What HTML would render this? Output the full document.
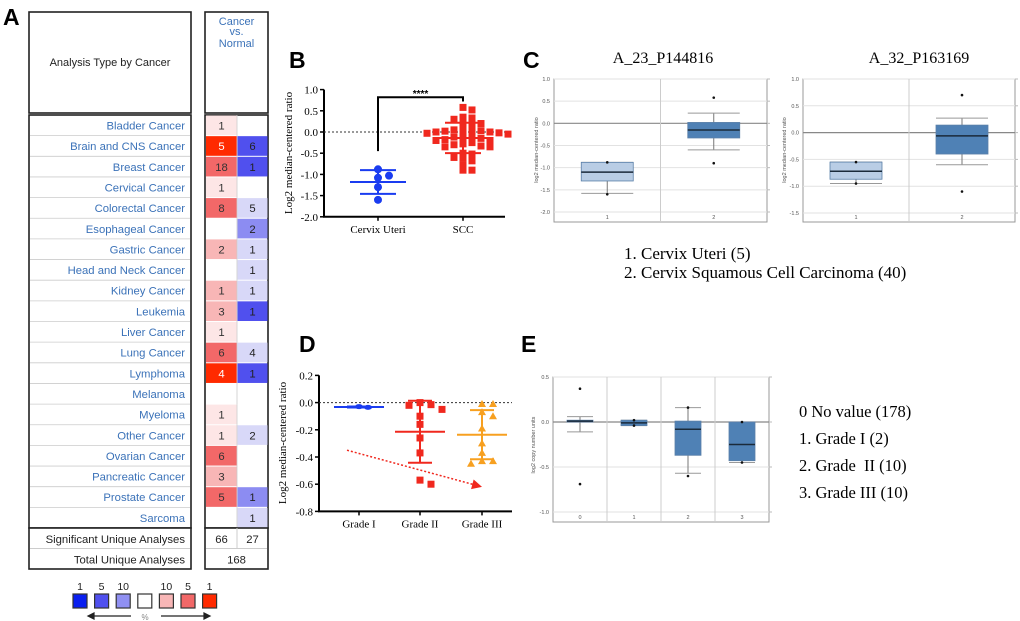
<!DOCTYPE html>
<html><head><meta charset="utf-8">
<style>
html,body{margin:0;padding:0;background:#fff;}
svg{display:block;}
.sans{font-family:"Liberation Sans","DejaVu Sans",sans-serif;}
.serif{font-family:"Liberation Serif",serif;}
.pre{white-space:pre;}
</style></head>
<body>
<svg id="fig" width="1020" height="621" viewBox="0 0 1020 621" xmlns="http://www.w3.org/2000/svg">
<text x="3" y="25" font-size="23" font-weight="bold" class="sans">A</text>
<text x="289" y="68" font-size="23" font-weight="bold" class="sans">B</text>
<text x="523" y="68" font-size="23" font-weight="bold" class="sans">C</text>
<text x="299" y="352" font-size="23" font-weight="bold" class="sans">D</text>
<text x="521" y="352" font-size="23" font-weight="bold" class="sans">E</text>
</svg>
<script>
// ---------- Panel A data ----------
const cancerTypes=["Bladder Cancer","Brain and CNS Cancer","Breast Cancer","Cervical Cancer","Colorectal Cancer","Esophageal Cancer","Gastric Cancer","Head and Neck Cancer","Kidney Cancer","Leukemia","Liver Cancer","Lung Cancer","Lymphoma","Melanoma","Myeloma","Other Cancer","Ovarian Cancer","Pancreatic Cancer","Prostate Cancer","Sarcoma"];
const upCounts=[1,5,18,1,8,null,2,null,1,3,1,6,4,null,1,1,6,3,5,null];
const upLevels=[3,0,1,3,1,null,2,null,2,2,3,1,0,null,3,3,1,2,1,null];
const downCounts=[null,6,1,null,5,2,1,1,1,1,null,4,1,null,null,2,null,null,1,1];
const downLevels=[null,1,1,null,3,2,3,3,3,1,null,3,1,null,null,3,null,null,2,3];
const sigTotals=[66,27];
const totalAnalyses=168;
const legendLabels=["1","5","10","","10","5","1"];
// ---------- Panel B data ----------
const bCategories=["Cervix Uteri","SCC"];
const bNormal=[-0.88,-1.08,-1.03,-1.30,-1.60];
const bSCC=[0.58,0.52,0.35,0.33,0.30,0.22,0.20,0.20,0.10,0.05,0.05,0.03,0.02,0.0,0.0,-0.02,-0.03,-0.05,-0.10,-0.12,-0.15,-0.15,-0.18,-0.20,-0.20,-0.25,-0.28,-0.30,-0.33,-0.35,-0.35,-0.50,-0.52,-0.60,-0.62,-0.68,-0.78,-0.90,-0.90,-0.02];
const bTicks=[1.0,0.5,0.0,-0.5,-1.0,-1.5,-2.0];
// ---------- Panel C data (q1,median,q3,whiskerLow,whiskerHigh,outliers) ----------
const c1Titles="A_23_P144816";
const c1Boxes=[[-1.30,-1.10,-0.88,-1.58,-0.88,[-0.88,-1.60]],[-0.33,-0.15,0.02,-0.60,0.23,[0.58,-0.90]]];
const c1Ticks=[1.0,0.5,0.0,-0.5,-1.0,-1.5,-2.0];
const c2Title="A_32_P163169";
const c2Boxes=[[-0.87,-0.72,-0.55,-0.95,-0.55,[-0.55,-0.95]],[-0.40,-0.06,0.14,-0.60,0.27,[0.70,-1.10]]];
const c2Ticks=[1.0,0.5,0.0,-0.5,-1.0,-1.5];
// ---------- Panel D data ----------
const dCategories=["Grade I","Grade II","Grade III"];
const dGrade1=[-0.03,-0.035];
const dGrade2=[-0.015,0.0,-0.02,-0.05,-0.10,-0.16,-0.26,-0.37,-0.60,-0.57];
const dGrade3=[-0.01,-0.01,-0.07,-0.10,-0.19,-0.30,-0.37,-0.43,-0.45,-0.43];
const dTicks=[0.2,0.0,-0.2,-0.4,-0.6,-0.8];
const dTrendStart=-0.35, dTrendEnd=-0.62;
// ---------- Panel E data ----------
const eCategories=["0","1","2","3"];
const eBoxes=[[0.0,0.01,0.02,-0.11,0.06,[0.37,-0.69]],[-0.04,-0.01,0.02,-0.04,0.02,[0.02,-0.04]],[-0.37,-0.08,0.01,-0.57,0.16,[0.16,-0.60]],[-0.43,-0.25,0.0,-0.45,0.0,[0.0,-0.45]]];
const eTicks=[0.5,0.0,-0.5,-1.0];

const NS='http://www.w3.org/2000/svg';
const svg=document.getElementById('fig');
function mk(tag,attrs,parent){const e=document.createElementNS(NS,tag);for(const k in attrs)e.setAttribute(k,attrs[k]);(parent||svg).appendChild(e);return e;}
function tx(x,y,s,attrs){const e=mk('text',Object.assign({x:x,y:y},attrs||{}));e.textContent=s;return e;}
function stats(a){const m=a.reduce((s,v)=>s+v,0)/a.length;const sd=Math.sqrt(a.reduce((s,v)=>s+(v-m)*(v-m),0)/(a.length-1));return [m,sd];}
// collision-avoiding beeswarm with vertical threshold and max spread
function swarm(vals,yFn,cx,d,dyThr,maxK){
  const order=vals.map((v,i)=>i).sort((a,b)=>vals[b]-vals[a]);
  const placed=[];const pos=new Array(vals.length);
  order.forEach(function(idx){
    const y=yFn(vals[idx]);
    let chosen=null;
    for(let k=0;k<=maxK;k++){
      const off=(k===0?0:(k%2?1:-1)*Math.ceil(k/2))*d;
      const x=cx+off;
      const hit=placed.some(p=>Math.abs(p[0]-x)<d-0.5&&Math.abs(p[1]-y)<dyThr);
      if(!hit){chosen=x;break;}
    }
    if(chosen===null)chosen=cx;
    pos[idx]=chosen;placed.push([chosen,y]);
  });
  return pos;
}

// ================= PANEL A =================
(function(){
const rowH=20.65, top=115;
const redC=["#ff2a00","#f26868","#f8b6b6","#fde6e6"];
const blueC=["#2020ee","#5050ee","#8c8cf2","#d8d8f8"];
let e;
e=mk('rect',{x:29,y:12,width:162,height:101,fill:'#fff',stroke:'#222','stroke-width':1.6});


e=tx(110,66,'Analysis Type by Cancer',{'font-size':11,'text-anchor':'middle',fill:'#222',class:'sans'});


e=mk('rect',{x:205,y:12,width:63,height:101,fill:'#fff',stroke:'#222','stroke-width':1.6});


[['Cancer',25],['vs.',35],['Normal',47]].forEach(function(p){
  e=tx(236.5,p[1],p[0],{'font-size':11,'text-anchor':'middle',fill:'#3b72b8',class:'sans'});
  
  
});
const n=cancerTypes.length, bottom=top+n*rowH;
e=mk('rect',{x:29,y:top,width:162,height:bottom-top,fill:'#fff',stroke:'#222','stroke-width':1.6});


e=mk('rect',{x:205,y:top,width:63,height:bottom-top,fill:'#fff',stroke:'#222','stroke-width':1.6});


for(let i=0;i<n;i++){
  const y=top+i*rowH;
  if(i>0){
    e=mk('line',{x1:30,x2:190,y1:y,y2:y,stroke:'#ccc','stroke-width':0.8});
    
    
  }
  e=tx(185,y+14.5,cancerTypes[i],{'font-size':11.3,'text-anchor':'end',fill:'#3b72b8',class:'sans'});
  
  
  if(upCounts[i]!=null){
    e=mk('rect',{x:206,y:y+0.5,width:31,height:rowH-1,fill:redC[upLevels[i]]});
    
    
    e=tx(221.5,y+14.5,String(upCounts[i]),{'font-size':11.3,'text-anchor':'middle',fill:upLevels[i]===0?'#fff':'#333',class:'sans'});
    
    
  }
  if(downCounts[i]!=null){
    e=mk('rect',{x:237.5,y:y+0.5,width:30,height:rowH-1,fill:blueC[downLevels[i]]});
    
    
    e=tx(252.5,y+14.5,String(downCounts[i]),{'font-size':11.3,'text-anchor':'middle',fill:'#222',class:'sans'});
    
    
  }
  e=mk('line',{x1:237,x2:237,y1:y,y2:y+rowH,stroke:'#ccc','stroke-width':0.8});
  
  
}
e=mk('rect',{x:29,y:bottom,width:162,height:41,fill:'#fff',stroke:'#222','stroke-width':1.6});


e=mk('rect',{x:205,y:bottom,width:63,height:41,fill:'#fff',stroke:'#222','stroke-width':1.6});


e=mk('line',{x1:30,x2:190,y1:bottom+20.5,y2:bottom+20.5,stroke:'#ccc'});


e=mk('line',{x1:206,x2:267,y1:bottom+20.5,y2:bottom+20.5,stroke:'#ccc'});


e=mk('line',{x1:237,x2:237,y1:bottom,y2:bottom+20.5,stroke:'#ccc'});


e=tx(185,bottom+15,'Significant Unique Analyses',{'font-size':11.3,'text-anchor':'end',fill:'#222',class:'sans'});


e=tx(185,bottom+35.5,'Total Unique Analyses',{'font-size':11.3,'text-anchor':'end',fill:'#222',class:'sans'});


e=tx(221.5,bottom+15,String(sigTotals[0]),{'font-size':11.3,'text-anchor':'middle',fill:'#222',class:'sans'});


e=tx(252.5,bottom+15,String(sigTotals[1]),{'font-size':11.3,'text-anchor':'middle',fill:'#222',class:'sans'});


e=tx(236.5,bottom+35.5,String(totalAnalyses),{'font-size':11.3,'text-anchor':'middle',fill:'#222',class:'sans'});


const legFill=["#0a1ff0","#5050ee","#9090f2","#fff","#f8b6b6","#f26868","#ff2a00"];
for(let k=0;k<7;k++){
  const x=73+k*21.6;
  e=mk('rect',{x:x,y:594,width:14,height:14,fill:legFill[k],stroke:'#333','stroke-width':1.2});
  
  
  e=tx(x+7,590,legendLabels[k],{'font-size':10.5,'text-anchor':'middle',fill:'#222',class:'sans'});
  
  
}
e=mk('path',{d:'M131 616 L88 616 M88 616 l6 -3 v6 z',stroke:'#222',fill:'#222','stroke-width':1.2});


e=mk('path',{d:'M161 616 L210 616 M210 616 l-6 -3 v6 z',stroke:'#222',fill:'#222','stroke-width':1.2});


e=tx(145,620,'%',{'font-size':8,'text-anchor':'middle',fill:'#888',class:'sans'});


})();

// ================= PANEL B =================
(function(){
const yB=v=>132-v*42.4;
const xCat=[378,463];
const ax0=324, ax1=505;
let e;
e=mk('line',{x1:ax0,x2:ax0,y1:yB(1.0),y2:yB(-2.0),stroke:'#000','stroke-width':2});


e=mk('line',{x1:ax0-1,x2:ax1,y1:yB(-2.0),y2:yB(-2.0),stroke:'#000','stroke-width':2});


bTicks.forEach(function(t){
  e=mk('line',{x1:ax0-4,x2:ax0,y1:yB(t),y2:yB(t),stroke:'#000','stroke-width':1.5});
  
  
  e=tx(ax0-6,yB(t)+4,t.toFixed(1),{'font-size':11,'text-anchor':'end',class:'serif'});
  
  
});
e=tx(0,0,'Log2 median-centered ratio',{'font-size':11,'text-anchor':'middle',class:'serif',transform:'translate(292,153) rotate(-90)'});


bCategories.forEach(function(c,i){
  e=mk('line',{x1:xCat[i],x2:xCat[i],y1:yB(-2.0),y2:yB(-2.0)+4,stroke:'#000','stroke-width':1.5});
  
  
  e=tx(xCat[i],yB(-2.0)+16,c,{'font-size':11,'text-anchor':'middle',class:'serif'});
  
  
});
e=mk('line',{x1:ax0,x2:ax1,y1:yB(0),y2:yB(0),stroke:'#333','stroke-width':1,'stroke-dasharray':'2,2'});


e=mk('path',{d:'M'+xCat[0]+' '+yB(-0.45)+' V'+yB(0.82)+' H'+xCat[1]+' V'+yB(0.72),fill:'none',stroke:'#000','stroke-width':2});


e=tx((xCat[0]+xCat[1])/2,yB(0.9)+3,'****',{'font-size':10,'text-anchor':'middle','font-weight':'bold',class:'sans'});


const series=[[bNormal,'#1a3cf0','circle',11,8,4],[bSCC,'#f0281e','square',9,5,9]];
series.forEach(function(s,i){
  const st=stats(s[0]);const cx=xCat[i];
  const px=swarm(s[0],yB,cx,s[3],s[4],s[5]);
  s[0].forEach(function(v,j){
    if(s[2]==='circle'){e=mk('circle',{cx:px[j],cy:yB(v),r:4,fill:s[1]});}
    else{e=mk('rect',{x:px[j]-3.5,y:yB(v)-3.5,width:7,height:7,fill:s[1]});}
    
    
  });
  e=mk('line',{x1:cx-28,x2:cx+28,y1:yB(st[0]),y2:yB(st[0]),stroke:s[1],'stroke-width':2});
  
  
  e=mk('line',{x1:cx,x2:cx,y1:yB(st[0]+st[1]),y2:yB(st[0]-st[1]),stroke:s[1],'stroke-width':2});
  
  
  [st[0]+st[1],st[0]-st[1]].forEach(function(v){
    e=mk('line',{x1:cx-18,x2:cx+18,y1:yB(v),y2:yB(v),stroke:s[1],'stroke-width':2});
    
    
  });
});
})();

// ================= Box plot helper (C, E) =================
function boxPanel(fx0,fx1,fy0,fy1,vTop,vBot,yTop,yBot,ticks,boxes,cats,colors,halfW,prefix){
  const y=v=>yTop+(vTop-v)*(yBot-yTop)/(vTop-vBot);
  let e;
  e=mk('rect',{x:fx0,y:fy0,width:fx1-fx0,height:fy1-fy0,fill:'#fff',stroke:'#999','stroke-width':1});
  
  
  const n=cats.length;const w=(fx1-fx0)/n;
  ticks.forEach(function(t){
    e=mk('line',{x1:fx0,x2:fx1,y1:y(t),y2:y(t),stroke:t===0?'#888':'#e2e2e2','stroke-width':t===0?1.2:1});
    
    
    e=tx(fx0-4,y(t)+2,t.toFixed(1),{'font-size':5.5,'text-anchor':'end',fill:'#555',class:'sans'});
    
    
    e=mk('line',{x1:fx1,x2:fx1+3,y1:y(t),y2:y(t),stroke:'#bbb'});
    
    
  });
  for(let i=1;i<n;i++){
    e=mk('line',{x1:fx0+i*w,x2:fx0+i*w,y1:fy0,y2:fy1,stroke:'#ccc'});
    
    
  }
  boxes.forEach(function(b,i){
    const cx=fx0+(i+0.5)*w;
    e=tx(cx,fy1-3,cats[i],{'font-size':5.5,'text-anchor':'middle',fill:'#555',class:'sans'});
    
    
    e=mk('line',{x1:cx,x2:cx,y1:y(b[4]),y2:y(b[3]),stroke:'#777'});
    
    
    [b[3],b[4]].forEach(function(v){
      e=mk('line',{x1:cx-halfW,x2:cx+halfW,y1:y(v),y2:y(v),stroke:'#999','stroke-width':1});
      
      
    });
    e=mk('rect',{x:cx-halfW,y:y(b[2]),width:2*halfW,height:Math.max(1.5,y(b[0])-y(b[2])),fill:colors[i],stroke:'#5a7fa8','stroke-width':0.8});
    
    
    e=mk('line',{x1:cx-halfW,x2:cx+halfW,y1:y(b[1]),y2:y(b[1]),stroke:'#1a2a3a','stroke-width':1.5});
    
    
    b[5].forEach(function(v){
      e=mk('circle',{cx:cx,cy:y(v),r:1.3,fill:'#111'});
      
      
    });
  });
}
(function(){
let e;
e=tx(663,63,c1Titles,{'font-size':16,'text-anchor':'middle',class:'serif'});


boxPanel(554,767,79,222,1.0,-2.0,79,212,c1Ticks,c1Boxes,['1','2'],['#b9cde5','#4f81b5'],26,'c1');
e=tx(0,0,'log2 median-centered ratio',{'font-size':5.5,'text-anchor':'middle',fill:'#555',class:'sans',transform:'translate(538,150) rotate(-90)'});


e=tx(919,63,c2Title,{'font-size':16,'text-anchor':'middle',class:'serif'});


boxPanel(803,1015,79,222,1.0,-1.5,79,213,c2Ticks,c2Boxes,['1','2'],['#b9cde5','#4f81b5'],26,'c2');
e=tx(0,0,'log2 median-centered ratio',{'font-size':5.5,'text-anchor':'middle',fill:'#555',class:'sans',transform:'translate(786,150) rotate(-90)'});


e=tx(624,259,'1. Cervix Uteri (5)',{'font-size':17,class:'serif'});


e=tx(624,278,'2. Cervix Squamous Cell Carcinoma (40)',{'font-size':17,class:'serif'});


boxPanel(553,769,377,522,0.5,-1.0,377,512,eTicks,eBoxes,eCategories,['#4f81b5','#4f81b5','#4f81b5','#4f81b5'],13,'e');
e=tx(0,0,'log2 copy number units',{'font-size':5.5,'text-anchor':'middle',fill:'#555',class:'sans',transform:'translate(535,445) rotate(-90)'});


[['0 No value (178)',417],['1. Grade I (2)',444],['2. Grade  II (10)',471],['3. Grade III (10)',498]].forEach(function(p){
  e=tx(799,p[1],p[0],{'font-size':16.5,class:'serif pre'});
  
  
});
})();

// ================= PANEL D =================
(function(){
const yD=v=>402.6-v*136;
const xCat=[359,420,482];
const ax0=319, ax1=512;
let e;
e=mk('line',{x1:ax0,x2:ax0,y1:yD(0.2),y2:yD(-0.8),stroke:'#000','stroke-width':2});


e=mk('line',{x1:ax0-1,x2:ax1,y1:yD(-0.8),y2:yD(-0.8),stroke:'#000','stroke-width':2});


dTicks.forEach(function(t){
  e=mk('line',{x1:ax0-4,x2:ax0,y1:yD(t),y2:yD(t),stroke:'#000','stroke-width':1.5});
  
  
  e=tx(ax0-6,yD(t)+4,t.toFixed(1),{'font-size':11,'text-anchor':'end',class:'serif'});
  
  
});
e=tx(0,0,'Log2 median-centered ratio',{'font-size':11,'text-anchor':'middle',class:'serif',transform:'translate(286,443) rotate(-90)'});


dCategories.forEach(function(c,i){
  e=mk('line',{x1:xCat[i],x2:xCat[i],y1:yD(-0.8),y2:yD(-0.8)+4,stroke:'#000','stroke-width':1.5});
  
  
  e=tx(xCat[i],yD(-0.8)+16,c,{'font-size':11,'text-anchor':'middle',class:'serif'});
  
  
});
e=mk('line',{x1:ax0,x2:ax1,y1:yD(0),y2:yD(0),stroke:'#333','stroke-width':1,'stroke-dasharray':'2,2'});


const series=[[dGrade1,'#1a3cf0','circle',9],[dGrade2,'#f0281e','square',11],[dGrade3,'#f7a020','triangle',11]];
series.forEach(function(s,i){
  const st=stats(s[0]);const cx=xCat[i];
  const px=swarm(s[0],yD,cx,s[3],7,6);
  s[0].forEach(function(v,j){
    const X=px[j],Y=yD(v);
    if(s[2]==='circle'){e=mk('ellipse',{cx:X,cy:Y,rx:4,ry:2.5,fill:s[1]});}
    else if(s[2]==='square'){e=mk('rect',{x:X-3.5,y:Y-3.5,width:7,height:7,fill:s[1]});}
    else{e=mk('polygon',{points:(X)+','+(Y-4)+' '+(X-4)+','+(Y+3)+' '+(X+4)+','+(Y+3),fill:s[1]});}
    
    
  });
  e=mk('line',{x1:cx-25,x2:cx+25,y1:yD(st[0]),y2:yD(st[0]),stroke:s[1],'stroke-width':2});
  
  
  e=mk('line',{x1:cx,x2:cx,y1:yD(st[0]+st[1]),y2:yD(st[0]-st[1]),stroke:s[1],'stroke-width':2});
  
  
  [st[0]+st[1],st[0]-st[1]].forEach(function(v){
    e=mk('line',{x1:cx-12,x2:cx+12,y1:yD(v),y2:yD(v),stroke:s[1],'stroke-width':2});
    
    
  });
});
const x0=347,x1=482,y0=yD(dTrendStart),y1=yD(dTrendEnd);
e=mk('line',{x1:x0,y1:y0,x2:x1-9,y2:y1-2.5,stroke:'#f0281e','stroke-width':1.5,'stroke-dasharray':'2,2'});


const ang=Math.atan2(y1-y0,x1-x0);
const hx=x1-10*Math.cos(ang),hy=y1-10*Math.sin(ang);
e=mk('polygon',{points:x1+','+y1+' '+(hx+5*Math.sin(ang))+','+(hy-5*Math.cos(ang))+' '+(hx-5*Math.sin(ang))+','+(hy+5*Math.cos(ang)),fill:'#f0281e'});


})();
</script>
</body></html>
